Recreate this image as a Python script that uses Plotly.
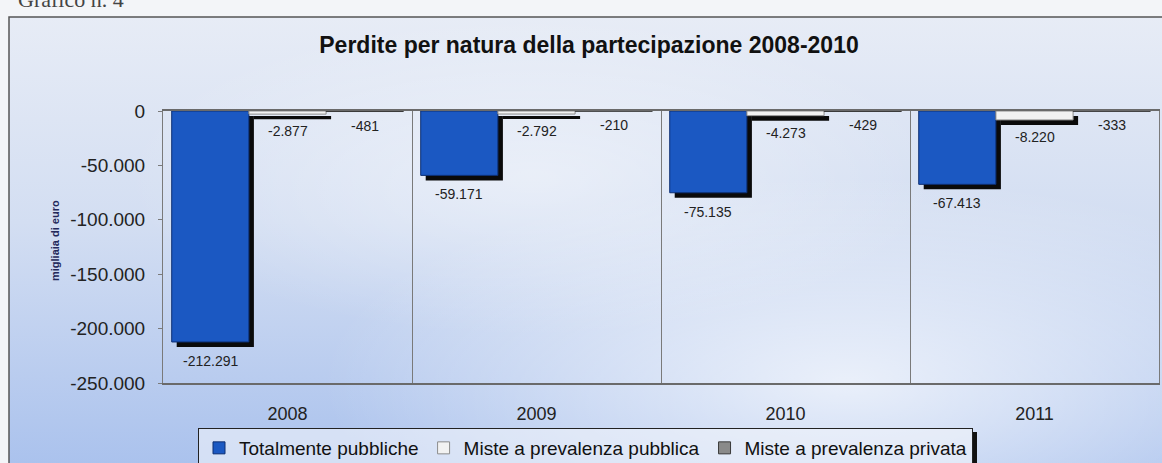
import base64
import plotly.graph_objects as go

# ---- data ----
anni = ["2008", "2009", "2010", "2011"]
totalmente_pubbliche = [-212291, -59171, -75135, -67413]
miste_pubblica = [-2877, -2792, -4273, -8220]
miste_privata = [-481, -210, -429, -333]
serie_nomi = ["Totalmente pubbliche", "Miste a prevalenza pubblica", "Miste a prevalenza privata"]
y_tickvals = [0, -50000, -100000, -150000, -200000, -250000]
y_ticktext = ["0", "-50.000", "-100.000", "-150.000", "-200.000", "-250.000"]
titolo = "Perdite per natura della partecipazione 2008-2010"
asse_y = "migliaia di euro"
didascalia = "Grafico n. 4"

# ---- geometry (pixels) ----
W, H = 1162, 463
L, R, T, B = 163, 3, 111, 80
PW, PH = W - L - R, H - T - B
YMIN, YMAX = -250000, 0


def px_x(p):
    return (p - L) / PW


def px_y(p):
    return (H - B - p) / PH


def fmt(v):
    return f"{v:,}".replace(",", ".")


series = [totalmente_pubbliche, miste_pubblica, miste_privata]
colors = ["#1b58c2", "#f2f2f2", "#8a8a8a"]
lines = ["#0d2f73", "#8c8c8c", "#3a3a3a"]
bar_w = 0.31
offsets = [-0.465, -0.155, 0.155]
shadow_dx = 5 / (PW / 4)
shadow_dy = 5 * (YMAX - YMIN) / PH
label_shift = [-19, -17, -14]

fig = go.Figure()

# shadows (drawn first, beneath)
for k in range(2):
    fig.add_trace(go.Bar(
        x=anni, y=series[k], base=-shadow_dy, width=bar_w,
        offset=offsets[k] + shadow_dx,
        marker=dict(color="#0a0a0a", line=dict(width=0)),
        showlegend=False, hoverinfo="skip",
    ))

for k in range(3):
    fig.add_trace(go.Bar(
        x=anni, y=series[k], name=serie_nomi[k], width=bar_w, offset=offsets[k],
        marker=dict(color=colors[k], line=dict(color=lines[k], width=1)),
    ))

annotations = []
for k in range(3):
    for i, v in enumerate(series[k]):
        annotations.append(dict(
            x=i + offsets[k] + bar_w / 2, y=v, xref="x", yref="y",
            text=fmt(v), showarrow=False, yshift=label_shift[k],
            yanchor="middle", xanchor="center",
            font=dict(family="Liberation Sans", size=14, color="#222222"),
        ))

annotations.append(dict(
    x=px_x(55), y=px_y(241), xref="paper", yref="paper", text=f"<b>{asse_y}</b>",
    textangle=-90, showarrow=False, xanchor="center", yanchor="middle",
    font=dict(family="Liberation Sans", size=11, color="#23285a"),
))
annotations.append(dict(
    x=px_x(16), y=px_y(0), xref="paper", yref="paper", text=didascalia,
    showarrow=False, xanchor="left", yanchor="middle",
    font=dict(family="Liberation Serif", size=22, color="#444444"),
))

# background gradient (chart area)
bx0, by0 = 9, 17
bw, bh = W - bx0 + 10, H - by0 + 10
svg = f"""<svg xmlns='http://www.w3.org/2000/svg' width='{bw}' height='{bh}' viewBox='0 0 {bw} {bh}' preserveAspectRatio='none'>
<defs>
<linearGradient id='v' x1='0' y1='0' x2='0' y2='1'>
<stop offset='0' stop-color='#e7ecf6'/><stop offset='0.45' stop-color='#d3def2'/><stop offset='1' stop-color='#a9c1ed'/>
</linearGradient>
<radialGradient id='r' cx='0.72' cy='0.8' r='0.45'>
<stop offset='0' stop-color='#ffffff' stop-opacity='0.7'/><stop offset='1' stop-color='#ffffff' stop-opacity='0'/>
</radialGradient>
<radialGradient id='r2' cx='0.45' cy='0.35' r='0.35'>
<stop offset='0' stop-color='#ffffff' stop-opacity='0.45'/><stop offset='1' stop-color='#ffffff' stop-opacity='0'/>
</radialGradient>
</defs>
<rect width='{bw}' height='{bh}' fill='url(#v)'/>
<rect width='{bw}' height='{bh}' fill='url(#r)'/>
<rect width='{bw}' height='{bh}' fill='url(#r2)'/>
</svg>"""
src = "data:image/svg+xml;base64," + base64.b64encode(svg.encode()).decode()

legend_right = 973

fig.update_layout(
    width=W, height=H,
    margin=dict(l=L, r=R, t=T, b=B, pad=0, autoexpand=False),
    barmode="overlay",
    separators=",.",
    paper_bgcolor="#f3f5f8",
    plot_bgcolor="rgba(0,0,0,0)",
    font=dict(family="Liberation Sans", color="#222222"),
    title=dict(
        text=f"<b>{titolo}</b>", x=589 / W, xref="container", xanchor="center",
        y=1 - 45 / H, yref="container", yanchor="middle",
        font=dict(family="Liberation Sans", size=23, color="#111111"),
    ),
    xaxis=dict(
        type="category", tickson="boundaries", ticks="", showgrid=True,
        gridcolor="#7a7a7a", gridwidth=1, showline=True, linecolor="#6a6a6a",
        linewidth=1.5, mirror=True, ticklabelstandoff=14, automargin=False,
        tickfont=dict(size=18, color="#222222"), zeroline=False,
    ),
    yaxis=dict(
        range=[YMIN, YMAX], tickvals=y_tickvals, ticktext=y_ticktext,
        ticks="outside", ticklen=4, tickcolor="#7a7a7a", showgrid=False,
        zeroline=False, showline=True, linecolor="#7a7a7a", linewidth=1,
        mirror=True, ticklabelstandoff=9, automargin=False,
        tickfont=dict(size=19, color="#222222"),
    ),
    legend=dict(
        orientation="h", x=px_x(legend_right), xanchor="right", y=px_y(428), yanchor="top",
        bgcolor="rgba(240,244,250,0.6)", bordercolor="#222222", borderwidth=1,
        font=dict(size=19, color="#111111"), itemwidth=30, traceorder="normal",
    ),
    annotations=annotations,
    shapes=[
        dict(
            type="rect", xref="paper", yref="paper",
            x0=px_x(bx0), y0=px_y(H + 20), x1=px_x(W + 20), y1=px_y(by0),
            line=dict(color="#555555", width=1.5), fillcolor="rgba(0,0,0,0)", layer="below",
        ),
        dict(
            type="rect", xref="paper", yref="paper",
            x0=px_x(legend_right), y0=px_y(H + 10), x1=px_x(legend_right + 4), y1=px_y(432),
            line=dict(width=0), fillcolor="#111111", layer="above",
        ),
    ],
    images=[dict(
        source=src, xref="paper", yref="paper", x=px_x(bx0), y=px_y(by0),
        sizex=bw / PW, sizey=bh / PH, xanchor="left", yanchor="top",
        sizing="stretch", layer="below",
    )],
    showlegend=True,
)

fig.write_html(
    "out.html",
    config={"displayModeBar": False},
    post_script="document.body.style.margin='0';document.body.style.overflow='hidden';",
)
